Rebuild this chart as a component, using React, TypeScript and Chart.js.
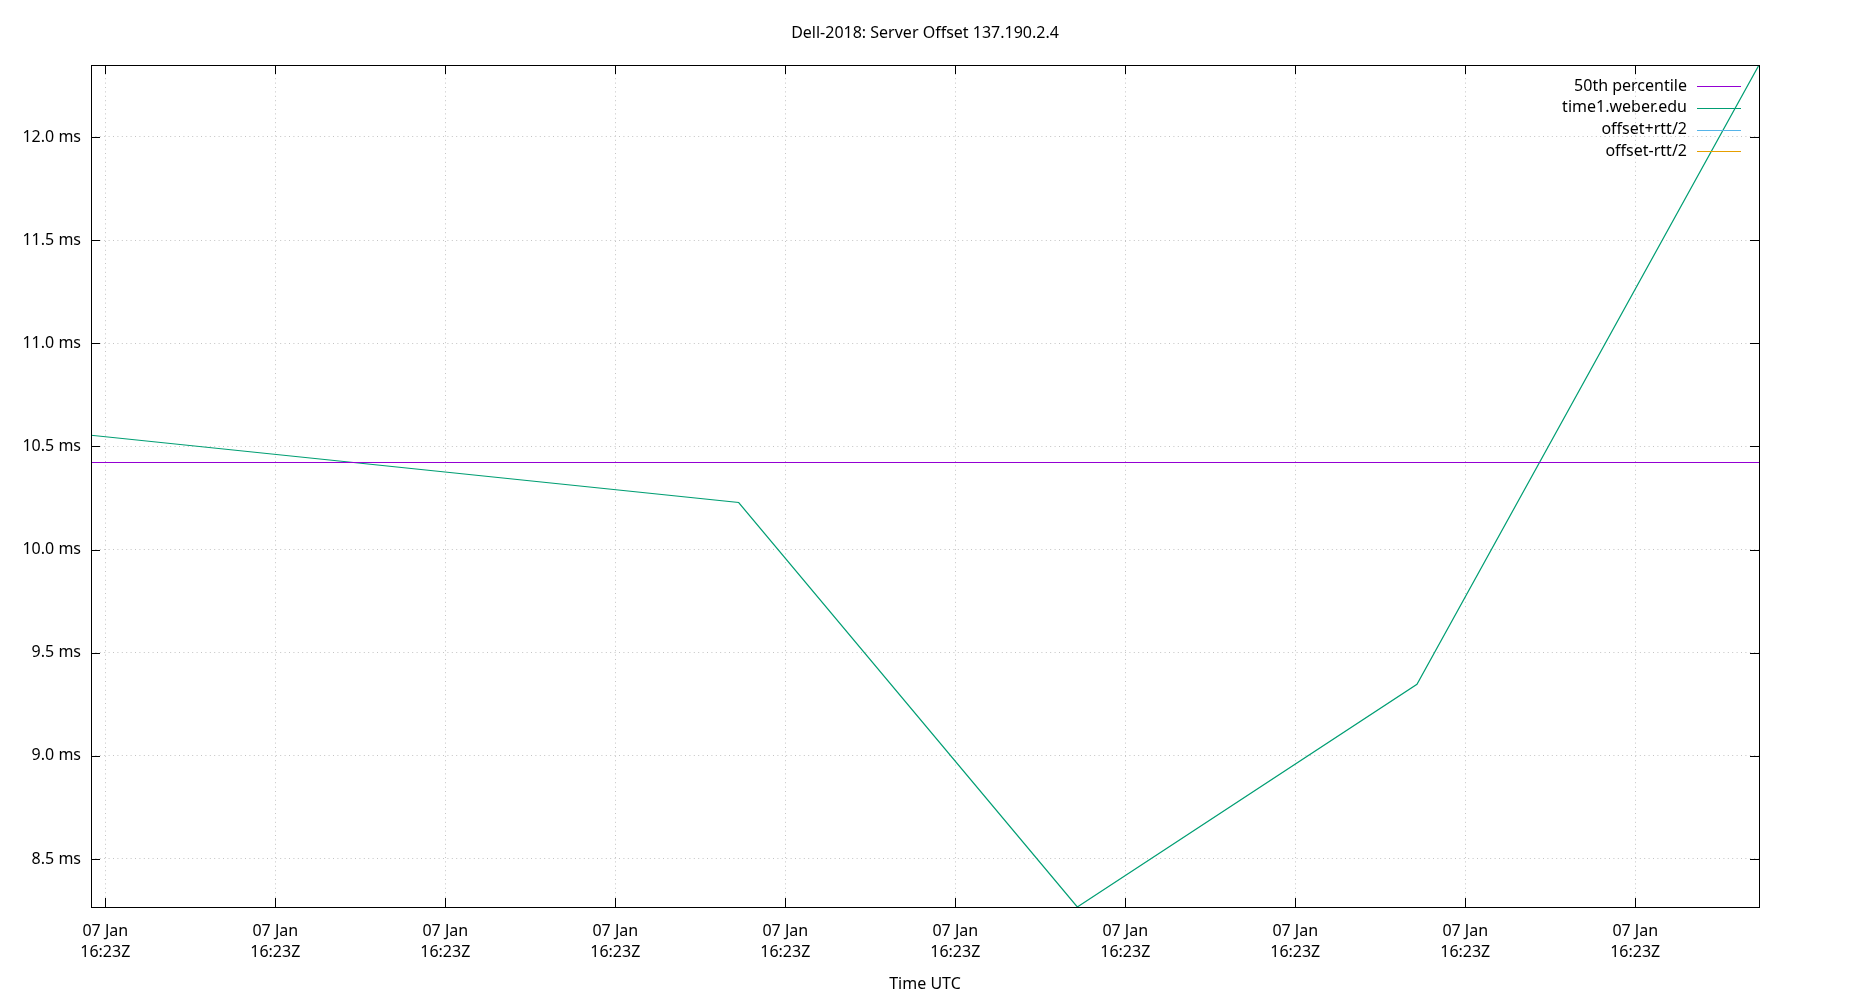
import { useEffect, useRef } from "react";
import { Chart, registerables } from "chart.js";

Chart.register(...registerables);

// seconds relative to 07 Jan 16:23:00 UTC
const sampleSeconds = [-0.42, 18.63, 28.59, 38.58, 48.64];
const offsetMs = [10.554, 10.228, 8.267, 9.347, 12.349];
const percentile50Ms = 10.422;
const seriesLabels = ["50th percentile", "time1.weber.edu", "offset+rtt/2", "offset-rtt/2"];
const seriesColors = ["#9400d3", "#009e73", "#56b4e9", "#e69f00"];
const xTickLabel = ["07 Jan", "16:23Z"];
const chartTitle = "Dell-2018: Server Offset 137.190.2.4";

const FONT = "'Noto Sans', sans-serif";

// gnuplot-like frame with inward ticks on all four sides, title, legend inside top right
const framePlugin = {
  id: "frame",
  afterDraw(chart: any) {
    const { ctx, chartArea: a, scales } = chart;
    ctx.save();
    ctx.strokeStyle = "#000";
    ctx.lineWidth = 1;
    ctx.strokeRect(a.left + 0.5, a.top + 0.5, a.right - a.left, a.bottom - a.top);
    const len = 9;
    ctx.beginPath();
    scales.x.ticks.forEach((t: any) => {
      const x = Math.round(scales.x.getPixelForValue(t.value)) + 0.5;
      ctx.moveTo(x, a.bottom);
      ctx.lineTo(x, a.bottom - len);
      ctx.moveTo(x, a.top);
      ctx.lineTo(x, a.top + len);
    });
    scales.y.ticks.forEach((t: any) => {
      const y = Math.round(scales.y.getPixelForValue(t.value)) + 0.5;
      ctx.moveTo(a.left, y);
      ctx.lineTo(a.left + len, y);
      ctx.moveTo(a.right, y);
      ctx.lineTo(a.right - len, y);
    });
    ctx.stroke();

    ctx.font = `16px ${FONT}`;
    ctx.fillStyle = "#000";
    ctx.textBaseline = "middle";
    ctx.textAlign = "center";
    ctx.fillText(chartTitle, chart.width / 2, 33);

    // legend
    ctx.textAlign = "right";
    chart.data.datasets.forEach((ds: any, i: number) => {
      const y = 86 + i * 21.8;
      ctx.fillStyle = "#000";
      ctx.fillText(ds.label, 1687, y);
      ctx.strokeStyle = ds.borderColor;
      ctx.lineWidth = 1.2;
      ctx.beginPath();
      ctx.moveTo(1697, Math.round(y) + 0.5);
      ctx.lineTo(1741, Math.round(y) + 0.5);
      ctx.stroke();
    });
    ctx.restore();
  },
};

export default function App() {
  const chartRef = useRef<HTMLCanvasElement>(null);
  const chartInstance = useRef<Chart | null>(null);

  useEffect(() => {
    if (!chartRef.current) return;
    if (chartInstance.current) chartInstance.current.destroy();
    const ctx = chartRef.current.getContext("2d");
    if (!ctx) return;

    const xMin = Math.min(...sampleSeconds);
    const xMax = Math.max(...sampleSeconds);
    const yMin = Math.min(...offsetMs);
    const yMax = Math.max(...offsetMs);

    chartInstance.current = new Chart(ctx, {
      type: "line",
      data: {
        datasets: [
          {
            label: seriesLabels[0],
            data: [
              { x: xMin, y: percentile50Ms },
              { x: xMax, y: percentile50Ms },
            ],
            borderColor: seriesColors[0],
          },
          {
            label: seriesLabels[1],
            data: sampleSeconds.map((s, i) => ({ x: s, y: offsetMs[i] })),
            borderColor: seriesColors[1],
          },
          { label: seriesLabels[2], data: [], borderColor: seriesColors[2] },
          { label: seriesLabels[3], data: [], borderColor: seriesColors[3] },
        ].map((d) => ({ ...d, borderWidth: 1.2, pointRadius: 0, tension: 0, fill: false })),
      },
      plugins: [framePlugin],
      options: {
        animation: false,
        responsive: true,
        maintainAspectRatio: false,
        layout: { padding: { left: 0, right: 91, top: 65, bottom: 0 } },
        plugins: {
          legend: { display: false },
          tooltip: { enabled: false },
          title: { display: false },
        },
        scales: {
          x: {
            type: "linear",
            min: xMin,
            max: xMax,
            afterFit: (scale: any) => {
              scale.height = 93;
            },
            grid: { color: "#c4c4c4", lineWidth: 1, drawTicks: false },
            border: { display: false, dash: [1, 3.4] },
            ticks: {
              stepSize: 5,
              includeBounds: false,
              autoSkip: false,
              maxRotation: 0,
              padding: 14,
              color: "#000",
              font: { family: FONT, size: 16, lineHeight: 1.3 },
              callback: () => xTickLabel,
            },
            title: {
              display: true,
              text: "Time UTC",
              color: "#000",
              font: { family: FONT, size: 16 },
              padding: { top: 7, bottom: 6 },
            },
          },
          y: {
            type: "linear",
            min: yMin,
            max: yMax,
            afterFit: (scale: any) => {
              scale.width = 91;
            },
            grid: { color: "#c4c4c4", lineWidth: 1, drawTicks: false },
            border: { display: false, dash: [1, 3.4] },
            ticks: {
              stepSize: 0.5,
              includeBounds: false,
              padding: 10,
              color: "#000",
              font: { family: FONT, size: 16 },
              callback: (v: any) => Number(v).toFixed(1) + " ms",
            },
          },
        },
      },
    });

    return () => {
      if (chartInstance.current) {
        chartInstance.current.destroy();
        chartInstance.current = null;
      }
    };
  }, []);

  return (
    <div style={{ position: "fixed", left: 0, top: 0, width: 1850, height: 1000, background: "#fff" }}>
      <canvas ref={chartRef}></canvas>
    </div>
  );
}
